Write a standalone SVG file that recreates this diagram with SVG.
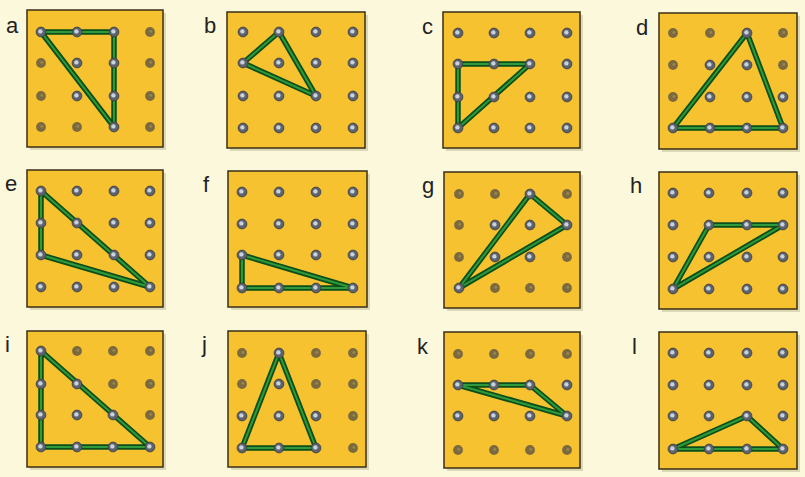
<svg xmlns="http://www.w3.org/2000/svg" xmlns:xlink="http://www.w3.org/1999/xlink" width="805" height="477" viewBox="0 0 805 477">
<style>
.bg{fill:#fbf8dc}
.shadow{fill:#cfc9a4;opacity:0.7}
.board{fill:#f7c230;stroke:#3a2f16;stroke-width:1.5}
.bandO{fill:none;stroke:#0d4f1a;stroke-width:5.5;stroke-linejoin:round}
.bandI{fill:none;stroke:#2f9a3c;stroke-width:2;stroke-linejoin:round}
.lbl{font-family:"Liberation Sans",Arial,sans-serif;font-size:22px;fill:#222}
</style>
<defs>
<g id="pg">
<circle r="4.9" fill="#5d636c" stroke="#3c3c3c" stroke-width="0.8"/>
<circle cx="-0.6" cy="-0.6" r="2.2" fill="#c9d2df"/>
</g>
<g id="pb">
<circle r="4.9" fill="#7c6a3f"/>
<circle cx="0.8" cy="-0.6" r="1.4" fill="#9a8650"/>
</g>
</defs>
<rect class="bg" x="0" y="0" width="805" height="477"/>

<g id="node-a">
<rect class="shadow" x="30" y="13" width="136" height="137"/>
<rect class="board" x="27" y="10" width="136" height="137"/>
<polygon class="bandO" points="41,32 114,32 114,127"/>
<polygon class="bandI" points="41,32 114,32 114,127"/>
<use href="#pg" x="41" y="32"/><use href="#pg" x="77" y="32"/><use href="#pg" x="114" y="32"/><use href="#pb" x="150" y="32"/>
<use href="#pb" x="41" y="63"/><use href="#pg" x="77" y="63"/><use href="#pg" x="114" y="63"/><use href="#pb" x="150" y="63"/>
<use href="#pb" x="41" y="96"/><use href="#pg" x="77" y="96"/><use href="#pg" x="114" y="96"/><use href="#pb" x="150" y="96"/>
<use href="#pb" x="41" y="127"/><use href="#pb" x="77" y="127"/><use href="#pg" x="114" y="127"/><use href="#pb" x="150" y="127"/>
<text class="lbl" x="6" y="33">a</text>
</g>

<g id="node-b">
<rect class="shadow" x="230" y="15" width="138" height="136"/>
<rect class="board" x="227" y="12" width="138" height="136"/>
<polygon class="bandO" points="279,32 243,63 316,96"/>
<polygon class="bandI" points="279,32 243,63 316,96"/>
<use href="#pg" x="243" y="32"/><use href="#pg" x="279" y="32"/><use href="#pg" x="316" y="32"/><use href="#pg" x="353" y="32"/>
<use href="#pg" x="243" y="63"/><use href="#pg" x="279" y="63"/><use href="#pg" x="316" y="63"/><use href="#pg" x="353" y="63"/>
<use href="#pg" x="243" y="96"/><use href="#pg" x="279" y="96"/><use href="#pg" x="316" y="96"/><use href="#pg" x="353" y="96"/>
<use href="#pg" x="243" y="128"/><use href="#pg" x="279" y="128"/><use href="#pg" x="316" y="128"/><use href="#pg" x="353" y="128"/>
<text class="lbl" x="204" y="33">b</text>
</g>

<g id="node-c">
<rect class="shadow" x="446" y="15" width="137" height="136"/>
<rect class="board" x="443" y="12" width="137" height="136"/>
<polygon class="bandO" points="458,64 530,64 458,128"/>
<polygon class="bandI" points="458,64 530,64 458,128"/>
<use href="#pg" x="458" y="33"/><use href="#pg" x="494" y="33"/><use href="#pg" x="530" y="33"/><use href="#pg" x="567" y="33"/>
<use href="#pg" x="458" y="64"/><use href="#pg" x="494" y="64"/><use href="#pg" x="530" y="64"/><use href="#pg" x="567" y="64"/>
<use href="#pg" x="458" y="97"/><use href="#pg" x="494" y="97"/><use href="#pg" x="530" y="97"/><use href="#pg" x="567" y="97"/>
<use href="#pg" x="458" y="128"/><use href="#pg" x="494" y="128"/><use href="#pg" x="530" y="128"/><use href="#pg" x="567" y="128"/>
<text class="lbl" x="422" y="34">c</text>
</g>

<g id="node-d">
<rect class="shadow" x="662" y="16" width="138" height="136"/>
<rect class="board" x="659" y="13" width="138" height="136"/>
<polygon class="bandO" points="747,33 673,128 783,128"/>
<polygon class="bandI" points="747,33 673,128 783,128"/>
<use href="#pb" x="673" y="33"/><use href="#pb" x="710" y="33"/><use href="#pg" x="747" y="33"/><use href="#pb" x="783" y="33"/>
<use href="#pb" x="673" y="65"/><use href="#pg" x="710" y="65"/><use href="#pg" x="747" y="65"/><use href="#pb" x="783" y="65"/>
<use href="#pb" x="673" y="97"/><use href="#pg" x="710" y="97"/><use href="#pg" x="747" y="97"/><use href="#pg" x="783" y="97"/>
<use href="#pg" x="673" y="128"/><use href="#pg" x="710" y="128"/><use href="#pg" x="747" y="128"/><use href="#pg" x="783" y="128"/>
<text class="lbl" x="636" y="35">d</text>
</g>

<g id="node-e">
<rect class="shadow" x="30" y="173" width="136" height="137"/>
<rect class="board" x="27" y="170" width="136" height="137"/>
<polygon class="bandO" points="41,191 41,255 150,287"/>
<polygon class="bandI" points="41,191 41,255 150,287"/>
<use href="#pg" x="41" y="191"/><use href="#pg" x="77" y="191"/><use href="#pg" x="114" y="191"/><use href="#pg" x="150" y="191"/>
<use href="#pg" x="41" y="223"/><use href="#pg" x="77" y="223"/><use href="#pg" x="114" y="223"/><use href="#pg" x="150" y="223"/>
<use href="#pg" x="41" y="255"/><use href="#pg" x="77" y="255"/><use href="#pg" x="114" y="255"/><use href="#pg" x="150" y="255"/>
<use href="#pg" x="41" y="287"/><use href="#pg" x="77" y="287"/><use href="#pg" x="114" y="287"/><use href="#pg" x="150" y="287"/>
<text class="lbl" x="5" y="191">e</text>
</g>

<g id="node-f">
<rect class="shadow" x="231" y="174" width="139" height="136"/>
<rect class="board" x="228" y="171" width="139" height="136"/>
<polygon class="bandO" points="242,255 242,288 353,288"/>
<polygon class="bandI" points="242,255 242,288 353,288"/>
<use href="#pg" x="242" y="192"/><use href="#pg" x="279" y="192"/><use href="#pg" x="316" y="192"/><use href="#pg" x="353" y="192"/>
<use href="#pg" x="242" y="224"/><use href="#pg" x="279" y="224"/><use href="#pg" x="316" y="224"/><use href="#pg" x="353" y="224"/>
<use href="#pg" x="242" y="255"/><use href="#pg" x="279" y="255"/><use href="#pg" x="316" y="255"/><use href="#pg" x="353" y="255"/>
<use href="#pg" x="242" y="288"/><use href="#pg" x="279" y="288"/><use href="#pg" x="316" y="288"/><use href="#pg" x="353" y="288"/>
<text class="lbl" x="203" y="192">f</text>
</g>

<g id="node-g">
<rect class="shadow" x="447" y="175" width="136" height="136"/>
<rect class="board" x="444" y="172" width="136" height="136"/>
<polygon class="bandO" points="530,194 567,225 459,288"/>
<polygon class="bandI" points="530,194 567,225 459,288"/>
<use href="#pb" x="459" y="194"/><use href="#pb" x="495" y="194"/><use href="#pg" x="530" y="194"/><use href="#pb" x="567" y="194"/>
<use href="#pb" x="459" y="225"/><use href="#pg" x="495" y="225"/><use href="#pg" x="530" y="225"/><use href="#pg" x="567" y="225"/>
<use href="#pb" x="459" y="257"/><use href="#pg" x="495" y="257"/><use href="#pg" x="530" y="257"/><use href="#pb" x="567" y="257"/>
<use href="#pg" x="459" y="288"/><use href="#pb" x="495" y="288"/><use href="#pb" x="530" y="288"/><use href="#pb" x="567" y="288"/>
<text class="lbl" x="422" y="193">g</text>
</g>

<g id="node-h">
<rect class="shadow" x="662" y="175" width="138" height="137"/>
<rect class="board" x="659" y="172" width="138" height="137"/>
<polygon class="bandO" points="709,225 783,225 673,289"/>
<polygon class="bandI" points="709,225 783,225 673,289"/>
<use href="#pg" x="673" y="193"/><use href="#pg" x="709" y="193"/><use href="#pg" x="747" y="193"/><use href="#pg" x="783" y="193"/>
<use href="#pg" x="673" y="225"/><use href="#pg" x="709" y="225"/><use href="#pg" x="747" y="225"/><use href="#pg" x="783" y="225"/>
<use href="#pg" x="673" y="257"/><use href="#pg" x="709" y="257"/><use href="#pg" x="747" y="257"/><use href="#pg" x="783" y="257"/>
<use href="#pg" x="673" y="289"/><use href="#pg" x="709" y="289"/><use href="#pg" x="747" y="289"/><use href="#pg" x="783" y="289"/>
<text class="lbl" x="630" y="193">h</text>
</g>

<g id="node-i">
<rect class="shadow" x="30" y="334" width="136" height="136"/>
<rect class="board" x="27" y="331" width="136" height="136"/>
<polygon class="bandO" points="41,351 41,447 150,447"/>
<polygon class="bandI" points="41,351 41,447 150,447"/>
<use href="#pg" x="41" y="351"/><use href="#pb" x="77" y="351"/><use href="#pb" x="113" y="351"/><use href="#pb" x="150" y="351"/>
<use href="#pg" x="41" y="384"/><use href="#pg" x="77" y="384"/><use href="#pb" x="113" y="384"/><use href="#pb" x="150" y="384"/>
<use href="#pg" x="41" y="415"/><use href="#pg" x="77" y="415"/><use href="#pg" x="113" y="415"/><use href="#pb" x="150" y="415"/>
<use href="#pg" x="41" y="447"/><use href="#pg" x="77" y="447"/><use href="#pg" x="113" y="447"/><use href="#pg" x="150" y="447"/>
<text class="lbl" x="5" y="352">i</text>
</g>

<g id="node-j">
<rect class="shadow" x="231" y="334" width="138" height="136"/>
<rect class="board" x="228" y="331" width="138" height="136"/>
<polygon class="bandO" points="279,353 242,448 316,448"/>
<polygon class="bandI" points="279,353 242,448 316,448"/>
<use href="#pb" x="242" y="353"/><use href="#pg" x="279" y="353"/><use href="#pb" x="316" y="353"/><use href="#pb" x="353" y="353"/>
<use href="#pb" x="242" y="384"/><use href="#pg" x="279" y="384"/><use href="#pb" x="316" y="384"/><use href="#pb" x="353" y="384"/>
<use href="#pg" x="242" y="416"/><use href="#pg" x="279" y="416"/><use href="#pg" x="316" y="416"/><use href="#pb" x="353" y="416"/>
<use href="#pg" x="242" y="448"/><use href="#pg" x="279" y="448"/><use href="#pg" x="316" y="448"/><use href="#pb" x="353" y="448"/>
<text class="lbl" x="202" y="352">j</text>
</g>

<g id="node-k">
<rect class="shadow" x="447" y="335" width="136" height="136"/>
<rect class="board" x="444" y="332" width="136" height="136"/>
<polygon class="bandO" points="458,385 530,385 567,416"/>
<polygon class="bandI" points="458,385 530,385 567,416"/>
<use href="#pb" x="458" y="354"/><use href="#pb" x="494" y="354"/><use href="#pb" x="530" y="354"/><use href="#pb" x="567" y="354"/>
<use href="#pg" x="458" y="385"/><use href="#pg" x="494" y="385"/><use href="#pg" x="530" y="385"/><use href="#pg" x="567" y="385"/>
<use href="#pg" x="458" y="416"/><use href="#pg" x="494" y="416"/><use href="#pg" x="530" y="416"/><use href="#pg" x="567" y="416"/>
<use href="#pb" x="458" y="450"/><use href="#pb" x="494" y="450"/><use href="#pb" x="530" y="450"/><use href="#pb" x="567" y="450"/>
<text class="lbl" x="417" y="354">k</text>
</g>

<g id="node-l">
<rect class="shadow" x="662" y="335" width="138" height="137"/>
<rect class="board" x="659" y="332" width="138" height="137"/>
<polygon class="bandO" points="673,449 747,416 783,449"/>
<polygon class="bandI" points="673,449 747,416 783,449"/>
<use href="#pg" x="673" y="353"/><use href="#pg" x="709" y="353"/><use href="#pg" x="747" y="353"/><use href="#pg" x="783" y="353"/>
<use href="#pg" x="673" y="385"/><use href="#pg" x="709" y="385"/><use href="#pg" x="747" y="385"/><use href="#pg" x="783" y="385"/>
<use href="#pg" x="673" y="416"/><use href="#pg" x="709" y="416"/><use href="#pg" x="747" y="416"/><use href="#pg" x="783" y="416"/>
<use href="#pg" x="673" y="449"/><use href="#pg" x="709" y="449"/><use href="#pg" x="747" y="449"/><use href="#pg" x="783" y="449"/>
<text class="lbl" x="632" y="354">l</text>
</g>

<g id="connectors"></g>
</svg>
